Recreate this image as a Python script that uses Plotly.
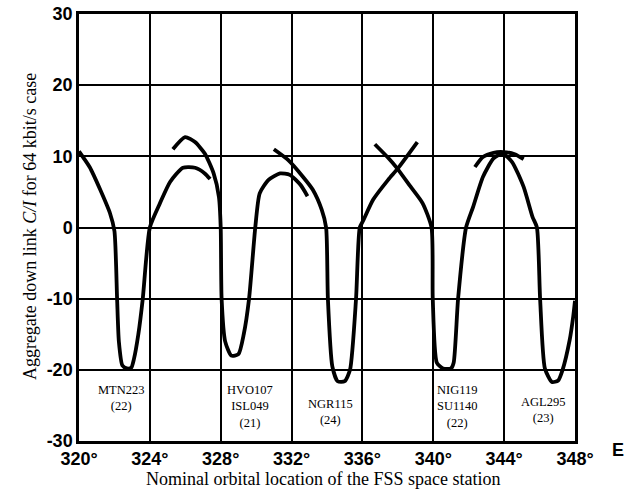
import plotly.graph_objects as go

# Curve segments (orbital location in degrees E, aggregate C/I in dB)
seg_a_x = [320.0, 320.6, 321.2, 321.75, 322.0, 322.15, 322.25, 322.45, 322.7, 322.95, 323.1, 323.35, 323.6, 324.0,
           324.57, 325.14, 325.87, 326.55, 327.1, 327.4]
seg_a_y = [10.7, 8.5, 5.3, 2.0, -0.5, -10.0, -16.0, -19.4, -19.8, -19.7, -18.5, -15.0, -10.0, 0.0,
           3.4, 6.4, 8.4, 8.4, 7.6, 6.8]

seg_b_x = [325.3, 325.99, 326.55, 327.1, 327.6, 327.9, 328.0, 328.05, 328.25, 328.6, 329.0, 329.3, 329.6, 329.95,
           330.2, 330.7, 331.35, 331.9, 332.5, 332.9]
seg_b_y = [11.0, 12.7, 12.0, 10.4, 7.6, 4.3, 0.0, -10.0, -16.0, -18.0, -17.8, -15.0, -10.0, 0.0,
           4.8, 6.7, 7.6, 7.4, 6.0, 4.4]

seg_c_x = [331.0, 331.8, 332.65, 333.2, 333.7, 333.95, 334.05, 334.3, 334.6, 335.0, 335.3, 335.64, 335.85,
           336.05, 336.6, 337.45, 338.0, 339.1]
seg_c_y = [11.0, 9.5, 7.1, 5.3, 2.5, 0.0, -10.0, -19.5, -21.6, -21.6, -20.0, -10.0, 0.0,
           1.0, 3.9, 6.7, 8.3, 12.0]

seg_d_x = [336.7, 337.45, 337.95, 338.7, 339.4, 339.9, 339.97, 340.2, 340.55, 341.0, 341.15, 341.4, 341.85,
           342.25, 342.8, 343.4, 343.9, 344.45, 345.1, 345.6, 345.85, 346.03, 346.3, 346.7, 347.05, 347.3,
           347.7, 347.9, 348.0]
seg_d_y = [11.7, 9.8, 8.35, 5.8, 3.4, 0.0, -10.0, -19.0, -19.8, -19.8, -19.0, -10.0, 0.0,
           2.9, 7.1, 9.7, 10.4, 9.2, 5.7, 1.5, 0.0, -10.0, -19.8, -21.7, -21.5, -20.0,
           -15.8, -12.5, -10.3]

seg_e_x = [342.35, 342.8, 343.4, 343.95, 344.6, 345.1]
seg_e_y = [8.5, 9.9, 10.5, 10.6, 10.3, 9.6]

# Network labels
label_x = [322.4, 329.65, 334.2, 341.35, 346.2]
label_text = ["MTN223<br>(22)", "HVO107<br>ISL049<br>(21)", "NGR115<br>(24)",
              "NIG119<br>SU1140<br>(22)", "AGL295<br>(23)"]
label_y = [-21.6, -21.6, -23.5, -21.6, -23.3]

x_ticks = [320, 324, 328, 332, 336, 340, 344, 348]
x_ticktext = ["320°", "324°", "328°", "332°", "336°", "340°", "344°", "348°"]
y_ticks = [-30, -20, -10, 0, 10, 20, 30]
y_ticktext = ["-30", "-20", "-10", "0", "10", "20", "30"]

fig = go.Figure()
for sx, sy in [(seg_a_x, seg_a_y), (seg_b_x, seg_b_y), (seg_c_x, seg_c_y),
               (seg_d_x, seg_d_y), (seg_e_x, seg_e_y)]:
    fig.add_trace(go.Scatter(x=sx, y=sy, mode="lines",
                             line=dict(color="black", width=3.8, shape="spline", smoothing=0.6),
                             showlegend=False, hoverinfo="skip"))

for lx, ly, lt in zip(label_x, label_y, label_text):
    fig.add_annotation(x=lx, y=ly, text=lt, showarrow=False, xanchor="center", yanchor="top",
                       font=dict(family="Liberation Serif", size=12.5, color="black"))

fig.add_annotation(xref="paper", yref="paper", x=1.087, y=-0.021, text="E", showarrow=False,
                   xanchor="center", yanchor="middle",
                   font=dict(family="Liberation Sans", size=18, color="black", weight="bold"))
fig.add_annotation(xref="paper", yref="paper", x=0.492, y=-0.089,
                   text="Nominal orbital location of the FSS space station", showarrow=False,
                   xanchor="center", yanchor="middle",
                   font=dict(family="Liberation Serif", size=18, color="black"))
fig.add_annotation(xref="paper", yref="paper", x=-0.099, y=0.503, textangle=-90,
                   text="Aggregate down link <i>C/I</i> for 64 kbit/s case", showarrow=False,
                   xanchor="center", yanchor="middle",
                   font=dict(family="Liberation Serif", size=18, color="black"))

fig.update_xaxes(range=[320, 348], tickvals=x_ticks, ticktext=x_ticktext, automargin=False,
                 ticklabeloverflow="allow",
                 showgrid=True, gridcolor="black", gridwidth=1.5, zeroline=False,
                 showline=True, linecolor="black", linewidth=2.5, mirror=True, ticks="",
                 tickfont=dict(family="Liberation Sans", size=18, color="black", weight="bold"))
fig.update_yaxes(range=[-30, 30], tickvals=y_ticks, ticktext=y_ticktext, automargin=False,
                 ticklabeloverflow="allow",
                 showgrid=True, gridcolor="black", gridwidth=1.5, zeroline=False,
                 showline=True, linecolor="black", linewidth=2.5, mirror=True, ticks="",
                 tickfont=dict(family="Liberation Sans", size=18, color="black", weight="bold"))

fig.update_layout(template="none", width=625, height=495, margin=dict(l=79, r=50, t=14, b=54),
                  plot_bgcolor="white", paper_bgcolor="white")

fig.write_html("out.html", config={"displayModeBar": False},
               post_script="document.body.style.margin='0';document.body.style.overflow='hidden';")
